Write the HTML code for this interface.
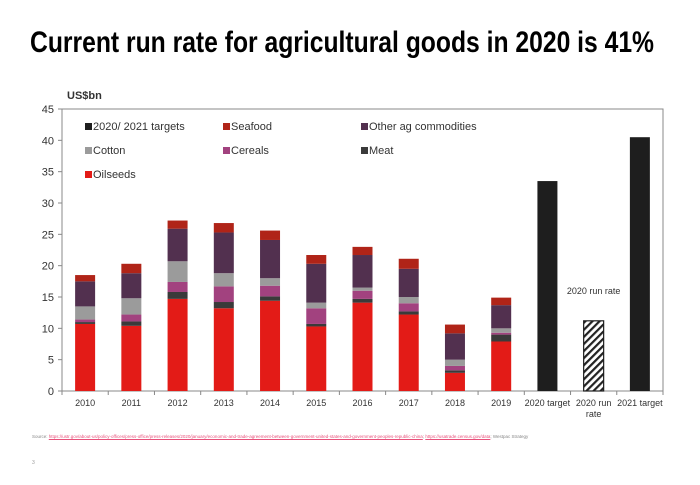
<!DOCTYPE html>
<html><head><meta charset="utf-8"><style>
body{margin:0;background:#fff;font-family:"Liberation Sans",sans-serif}
#wrap{position:relative;width:700px;height:485px;overflow:hidden}
</style></head><body>
<div id="wrap">
<svg id="chart" width="700" height="485" style="position:absolute;left:0;top:0;font-family:'Liberation Sans',sans-serif">
<defs><pattern id="hatch" patternUnits="userSpaceOnUse" width="5" height="5" patternTransform="rotate(45)"><rect width="5" height="5" fill="#fff"/><rect width="2.2" height="5" fill="#222"/></pattern></defs>
<text x="30" y="52" font-size="30" font-weight="bold" fill="#000" textLength="624" lengthAdjust="spacingAndGlyphs">Current run rate for agricultural goods in 2020 is 41%</text>
</svg>
<div style="position:absolute;left:32px;top:434px;font-size:4.5px;color:#888;white-space:nowrap">Source: <span style="color:#e8507a;text-decoration:underline">https://ustr.gov/about-us/policy-offices/press-office/press-releases/2020/january/economic-and-trade-agreement-between-government-united-states-and-government-peoples-republic-china</span>; <span style="color:#e8507a;text-decoration:underline">https://usatrade.census.gov/data</span>; Westpac Strategy</div>
<div style="position:absolute;left:32px;top:460px;font-size:5px;color:#999">3</div>
</div>
<script>
const categories=["2010","2011","2012","2013","2014","2015","2016","2017","2018","2019"];
const oilseeds=[10.7,10.4,14.7,13.2,14.4,10.3,14.1,12.2,2.9,7.9];
const meat=[0.3,0.7,1.1,1.0,0.7,0.4,0.6,0.5,0.4,1.1];
const cereals=[0.4,1.1,1.6,2.5,1.7,2.5,1.3,1.3,0.7,0.3];
const cotton=[2.1,2.6,3.3,2.1,1.2,0.9,0.5,1.0,1.0,0.7];
const other=[4.0,4.0,5.2,6.5,6.1,6.2,5.2,4.5,4.2,3.7];
const seafood=[1.0,1.5,1.3,1.5,1.5,1.4,1.3,1.6,1.4,1.2];
const targetCategories=["2020 target","2020 run rate","2021 target"];
const targetValues=[33.5,11.2,40.5];
const yTicks=[0,5,10,15,20,25,30,35,40,45];

const svg=document.getElementById('chart');
const NS='http://www.w3.org/2000/svg';
const X0=62,X1=663,Y0=391,Y1=109,YMAX=45;
const nCat=categories.length+targetCategories.length;
const band=(X1-X0)/nCat;
const y=v=>Y0-(v/YMAX)*(Y0-Y1);
const xc=i=>X0+band*(i+0.5);
function mk(t,a){const e=document.createElementNS(NS,t);for(const k in a)e.setAttribute(k,a[k]);svg.appendChild(e);return e;}
let f=mk('rect',{x:X0,y:Y1,width:X1-X0,height:Y0-Y1,fill:'none',stroke:'#888','stroke-width':1});


let ut=mk('text',{x:67,y:99,'font-size':11,'font-weight':'bold',fill:'#333'});ut.textContent='US$bn';


yTicks.forEach(t=>{
 const l=mk('text',{x:54,y:y(t)+4,'font-size':11,'text-anchor':'end',fill:'#333'});l.textContent=t;
 
 
 mk('line',{x1:X0-4,x2:X0,y1:y(t),y2:y(t),stroke:'#888'});
});
for(let i=0;i<=nCat;i++)mk('line',{x1:X0+band*i,x2:X0+band*i,y1:Y0,y2:Y0+4,stroke:'#888'});
const series=[[oilseeds,'#e31b17','oilseeds'],[meat,'#3a3a3a','meat'],[cereals,'#a2427f','cereals'],[cotton,'#9b9b9b','cotton'],[other,'#52304f','other-ag'],[seafood,'#b02418','seafood']];
const bw=20;
categories.forEach((c,i)=>{
 let acc=0;
 series.forEach(([arr,col,nm])=>{
  const v=arr[i];
  const r=mk('rect',{x:xc(i)-bw/2,y:y(acc+v),width:bw,height:y(acc)-y(acc+v),fill:col});
  
  
  acc+=v;
 });
 const l=mk('text',{x:xc(i),y:406,'font-size':9,'text-anchor':'middle',fill:'#333'});l.textContent=c;
 
 
});
targetCategories.forEach((c,j)=>{
 const i=categories.length+j;
 const v=targetValues[j];
 const hatched=j===1;
 const r=mk('rect',{x:xc(i)-bw/2,y:y(v),width:bw,height:y(0)-y(v),fill:hatched?'url(#hatch)':'#1e1e1e',stroke:'#1e1e1e','stroke-width':hatched?1.2:0});
 
 
 const lines=hatched?['2020 run','rate']:[c];
 lines.forEach((s,k)=>{
  const l=mk('text',{x:xc(i),y:406+k*11,'font-size':9,'text-anchor':'middle',fill:'#333'});l.textContent=s;
  
  
 });
 if(hatched){
  const a=mk('text',{x:xc(i),y:y(v)-27,'font-size':9,'text-anchor':'middle',fill:'#333'});a.textContent='2020 run rate';
  
  
 }
});
const legend=[['2020/ 2021 targets','#1e1e1e',85,130],['Seafood','#b02418',223,130],['Other ag commodities','#52304f',361,130],['Cotton','#9b9b9b',85,154],['Cereals','#a2427f',223,154],['Meat','#3a3a3a',361,154],['Oilseeds','#e31b17',85,178]];
legend.forEach(([t,c,lx,ly])=>{
 const g=document.createElementNS(NS,'g');svg.appendChild(g);
 
 
 const r=document.createElementNS(NS,'rect');
 [['x',lx],['y',ly-7],['width',7],['height',7],['fill',c]].forEach(([k,v])=>r.setAttribute(k,v));g.appendChild(r);
 const tx=document.createElementNS(NS,'text');
 [['x',lx+8],['y',ly],['font-size',11],['fill','#333']].forEach(([k,v])=>tx.setAttribute(k,v));
 tx.textContent=t;g.appendChild(tx);
});
</script>
</body></html>
